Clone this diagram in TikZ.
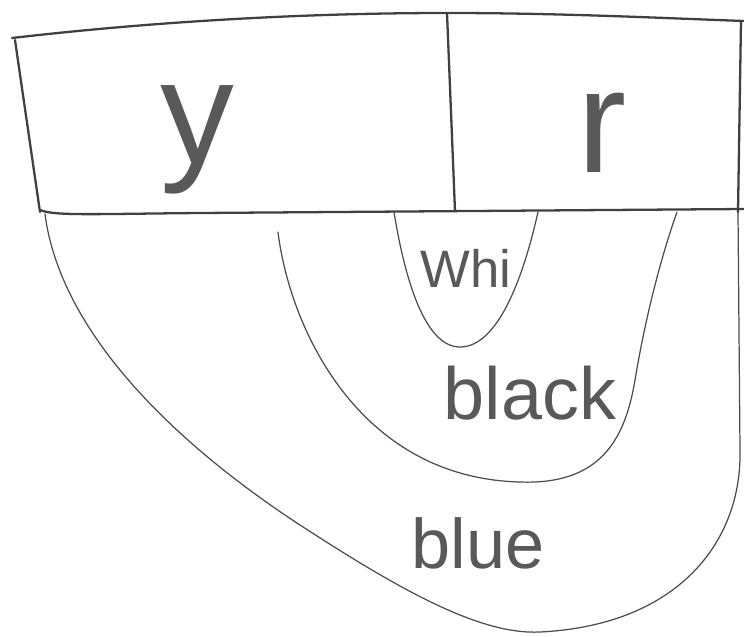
\documentclass[tikz,border=0pt]{standalone}
\usepackage{fontspec}
\setsansfont{Liberation Sans}

\begin{document}
\begin{tikzpicture}[
	x=0.02cm, y=-0.02cm,
	box/.style={ black!75, line width=1.3pt, line cap=round, line join=round },
	loop/.style={ black!70, line width=0.7pt, line cap=round },
	word/.style={ black!65, inner sep=0pt, font=\sffamily }
]
\useasboundingbox (0,0) rectangle (744,636);

% the two cells on top
\draw[box] (12,38) .. controls (150,22) and (300,13) .. (447,13) .. controls (560,13) and (660,18) .. (744,21);
\draw[box] (15,40) -- (40,212);
\draw[box] (40,210) .. controls (55,216) and (90,214) .. (200,213) -- (744,209);
\draw[box] (447,13) -- (455,211);
\draw[box] (741,21) -- (738,212);

% nested regions below
\draw[loop] (45,214) .. controls (60,330) and (170,440) .. (300,525) .. controls (400,590) and (480,635) .. (540,632) .. controls (680,625) and (742,540) .. (740,450) -- (738,212);
\draw[loop] (278,232) .. controls (290,330) and (360,478) .. (520,482) .. controls (600,485) and (625,440) .. (635,380) .. controls (645,320) and (660,260) .. (677,212);
\draw[loop] (394,212) .. controls (405,280) and (425,347) .. (460,347) .. controls (500,347) and (525,270) .. (538,212);

\node[word, font=\sffamily\fontsize{84}{84}\selectfont] at (197,140) (y) {y};
\node[word, font=\sffamily\fontsize{84}{84}\selectfont] at (602,133) (r) {r};
\node[word, font=\sffamily\fontsize{30}{30}\selectfont] at (466,268) (whi) {Whi};
\node[word, font=\sffamily\fontsize{42}{42}\selectfont] at (530,393) (black) {black};
\node[word, font=\sffamily\fontsize{40}{40}\selectfont] at (478,543) (blue) {blue};

\end{tikzpicture}
\end{document}
